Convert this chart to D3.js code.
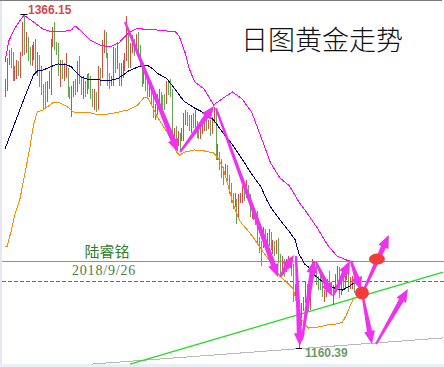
<!DOCTYPE html>
<html>
<head>
<meta charset="utf-8">
<script src="https://cdn.jsdelivr.net/npm/d3@7"></script>
<style>
  body { margin: 0; background: #fff; }
  svg { display: block; }
</style>
</head>
<body>
<div id="chart"></div>
<script>

// daily gold bars, 2018: [day, open, high, low, close]
var jan = [[11,1318,1326,1315,1322],[12,1322,1339,1319,1338],[15,1338,1344,1335,1340],[16,1340,1345,1333,1337],[17,1337,1343,1325,1327],[18,1327,1334,1325,1328],[19,1328,1338,1326,1332],[22,1332,1337,1328,1331],[23,1331,1343,1327,1340],[24,1340,1361,1340,1358],[25,1358,1366.15,1341,1348],[26,1348,1355,1342,1350],[29,1350,1352,1337,1341],[30,1341,1346,1335,1340],[31,1340,1347,1334,1345]];
var feb = [[1,1345,1349,1338,1347],[2,1347,1351,1330,1333],[5,1333,1343,1328,1338],[6,1338,1341,1321,1328],[7,1328,1334,1316,1318],[8,1318,1323,1307,1317],[9,1317,1324,1309,1316],[12,1316,1325,1312,1322],[13,1322,1331,1320,1330],[14,1330,1351,1316,1350],[15,1350,1358,1346,1354],[16,1354,1361,1344,1347],[19,1347,1349,1341,1346],[20,1346,1348,1328,1331],[21,1331,1338,1321,1332],[22,1332,1338,1326,1329],[23,1329,1336,1325,1330],[26,1330,1342,1327,1332],[27,1332,1333,1315,1318],[28,1318,1321,1314,1317]];
var mar = [[1,1317,1322,1303,1318],[2,1318,1325,1315,1322],[5,1322,1326,1316,1319],[6,1319,1337,1318,1335],[7,1335,1340,1323,1326],[8,1326,1328,1316,1321],[9,1321,1328,1314,1323],[12,1323,1325,1315,1321],[13,1321,1329,1317,1327],[14,1327,1330,1320,1325],[15,1325,1328,1314,1317],[16,1317,1320,1309,1313],[19,1313,1320,1307,1317],[20,1317,1318,1306,1311],[21,1311,1334,1307,1332],[22,1332,1333,1322,1328],[23,1328,1350,1327,1347],[26,1347,1356,1342,1354],[27,1354,1355,1339,1341],[28,1341,1342,1322,1325],[29,1325,1330,1320,1324],[30,1324,1328,1322,1326]];
var apr = [[2,1326,1346,1322,1343],[3,1343,1345,1330,1333],[4,1333,1349,1332,1334],[5,1334,1336,1322,1326],[6,1326,1336,1322,1332],[9,1332,1338,1327,1335],[10,1335,1342,1331,1339],[11,1339,1365,1337,1353],[12,1353,1354,1333,1335],[13,1335,1348,1333,1345],[16,1345,1353,1342,1348],[17,1348,1351,1340,1346],[18,1346,1354,1344,1350],[19,1350,1355,1343,1345],[20,1345,1347,1334,1335],[23,1335,1337,1321,1324],[24,1324,1336,1323,1332],[25,1332,1333,1319,1322],[26,1322,1325,1315,1317],[27,1317,1326,1315,1323],[30,1323,1324,1311,1315]];
var may = [[1,1315,1316,1302,1305],[2,1305,1311,1301,1306],[3,1306,1317,1304,1314],[4,1314,1320,1309,1315],[7,1315,1318,1309,1314],[8,1314,1316,1304,1313],[9,1313,1317,1307,1312],[10,1312,1325,1311,1321],[11,1321,1325,1316,1320],[14,1320,1326,1315,1318],[15,1318,1320,1288,1290],[16,1290,1296,1286,1291],[17,1291,1297,1287,1290],[18,1290,1294,1285,1291],[21,1291,1293,1282,1290],[22,1290,1296,1288,1292],[23,1292,1305,1288,1304],[24,1304,1307,1298,1305],[25,1305,1306,1297,1302],[28,1302,1304,1294,1297],[29,1297,1304,1293,1300],[30,1300,1305,1296,1298],[31,1298,1307,1296,1299]];
var jun = [[1,1299,1300,1290,1294],[4,1294,1296,1289,1291],[5,1291,1298,1289,1294],[6,1294,1299,1292,1296],[7,1296,1304,1294,1298],[8,1298,1302,1294,1297],[11,1297,1301,1295,1299],[12,1299,1301,1291,1294],[13,1294,1303,1292,1300],[14,1300,1309,1299,1303],[15,1303,1307,1276,1278],[18,1278,1286,1276,1279],[19,1279,1281,1270,1276],[20,1276,1277,1265,1268],[21,1268,1272,1261,1267],[22,1267,1274,1265,1270],[25,1270,1273,1263,1266],[26,1266,1267,1255,1258],[27,1258,1262,1250,1253],[28,1253,1256,1246,1249],[29,1249,1256,1247,1251]];
var jul = [[2,1251,1252,1237,1241],[3,1241,1255,1240,1253],[4,1253,1256,1250,1254],[5,1254,1260,1250,1256],[6,1256,1260,1251,1255],[9,1255,1264,1253,1258],[10,1258,1261,1252,1254],[11,1254,1255,1241,1245],[12,1245,1249,1240,1246],[13,1246,1248,1239,1241],[16,1241,1245,1236,1240],[17,1240,1245,1225,1227],[18,1227,1229,1219,1224],[19,1224,1226,1211,1223],[20,1223,1235,1222,1231],[23,1231,1234,1221,1224],[24,1224,1231,1221,1226],[25,1226,1234,1223,1231],[26,1231,1232,1221,1222],[27,1222,1227,1218,1223],[30,1223,1226,1217,1220],[31,1220,1227,1218,1224]];
var aug = [[1,1224,1228,1213,1216],[2,1216,1218,1204,1208],[3,1208,1217,1206,1214],[6,1214,1215,1204,1208],[7,1208,1215,1207,1210],[8,1210,1217,1209,1212],[9,1212,1216,1210,1211],[10,1211,1216,1205,1210],[13,1210,1212,1189,1193],[14,1193,1200,1190,1194],[15,1194,1195,1168,1175],[16,1175,1182,1160.39,1176],[17,1176,1188,1174,1184],[20,1184,1192,1183,1190],[21,1190,1201,1188,1196],[22,1196,1200,1192,1195],[23,1195,1197,1183,1186],[24,1186,1207,1184,1206],[27,1206,1215,1204,1212],[28,1212,1214,1205,1211],[29,1211,1213,1199,1202],[30,1202,1205,1196,1201],[31,1201,1206,1196,1200]];
var sep = [[3,1200,1201,1192,1193],[4,1193,1196,1189,1194],[5,1194,1200,1192,1197],[6,1197,1203,1195,1200],[7,1200,1208,1194,1196],[10,1196,1201,1193,1194],[11,1194,1199,1187,1195],[12,1195,1206,1194,1204],[13,1204,1211,1201,1209],[14,1209,1210,1191,1193],[17,1193,1203,1193,1199],[18,1199,1203,1196,1198],[19,1198,1205,1197,1203],[20,1203,1212,1202,1207],[21,1207,1210,1195,1199],[24,1199,1204,1197,1200],[25,1200,1205,1197,1201],[26,1201,1207,1194,1195]];

var bars = [].concat(jan, feb, mar, apr, may, jun, jul, aug, sep);

// bollinger bands: [bar number, price]
var upper = [[0,1336.6],[2,1349.5],[5,1356.9],[7,1360.6],[10,1365.5],[15,1361.2],[20,1356.9],[25,1355.1],[30,1355.1],[35,1356.3],[37,1358.8],[40,1355.7],[45,1350.1],[50,1347.1],[55,1345.8],[60,1348.3],[65,1354.4],[70,1357.5],[75,1356.3],[80,1356.3],[85,1355.7],[90,1355.1],[92,1352.0],[95,1342.1],[97,1332.9],[100,1324.3],[105,1320.0],[110,1310.1],[115,1314.4],[120,1318.1],[125,1313.8],[130,1305.8],[135,1290.4],[140,1274.4],[145,1265.1],[150,1260.2],[155,1250.3],[160,1242.3],[165,1233.7],[170,1223.9],[175,1217.1],[180,1214.6],[184,1213.4]];
var middle = [[0,1283.0],[5,1298.4],[10,1313.8],[15,1328.6],[17,1331.0],[20,1331.6],[25,1334.1],[28,1335.4],[33,1334.7],[35,1333.5],[40,1327.3],[45,1325.5],[50,1325.5],[55,1324.9],[60,1326.7],[63,1329.2],[65,1331.0],[70,1333.5],[75,1334.7],[78,1332.3],[80,1329.8],[85,1326.7],[88,1322.4],[90,1319.3],[93,1314.4],[95,1311.9],[100,1308.2],[105,1305.2],[110,1300.9],[113,1296.0],[115,1292.8],[120,1285.5],[125,1276.8],[130,1267.6],[135,1259.6],[138,1251.6],[140,1247.3],[145,1239.2],[150,1231.9],[153,1227.0],[155,1218.3],[158,1212.1],[160,1210.3],[163,1205.4],[165,1203.5],[170,1199.2],[175,1196.7],[178,1196.1],[181,1198.0],[184,1200.4]];
var lower = [[0,1223.2],[1,1222.6],[3,1231.2],[5,1241.7],[8,1252.8],[10,1265.1],[13,1283.0],[15,1297.8],[17,1305.8],[20,1307.0],[25,1311.3],[28,1311.9],[30,1310.7],[33,1308.9],[36,1305.8],[40,1305.2],[45,1305.2],[50,1303.9],[55,1304.6],[60,1305.8],[65,1307.0],[70,1310.1],[73,1314.4],[75,1315.0],[77,1310.7],[80,1303.3],[85,1294.1],[88,1287.9],[90,1281.8],[92,1279.3],[95,1281.1],[100,1282.4],[105,1281.8],[110,1280.5],[112,1278.0],[115,1271.3],[118,1259.0],[120,1250.3],[123,1240.5],[125,1236.8],[130,1230.0],[135,1221.4],[138,1216.5],[140,1213.4],[145,1204.8],[150,1199.2],[152,1196.7],[153,1191.8],[154,1185.7],[155,1180.7],[158,1175.2],[160,1172.7],[165,1173.3],[170,1174.6],[175,1175.2],[178,1176.4],[180,1180.7],[182,1186.3],[184,1191.8]];

// levels and hand drawn marks
var highPrice = 1366.15, lowPrice = 1160.39;
var resistance = 1214.0, lastPrice = 1201.7;
var trendGreen = [[66, 1150.5], [231, 1207.2]];
var trendGray = [[46, 1150.5], [231, 1166.6]];
var arrows = [
  [[63.3,1361.2],[91.2,1281.1]],
  [[92.3,1281.1],[110.2,1309.5]],
  [[111.2,1308.2],[143.9,1204.1]],
  [[145.0,1204.1],[152.3,1217.7]],
  [[153.4,1217.1],[155.5,1161.6]],
  [[156.6,1165.3],[162.9,1214.6]],
  [[163.9,1213.4],[172.4,1192.4]],
  [[172.9,1192.4],[181.9,1214.0]],
  [[182.4,1214.0],[187.7,1196.1]],
  [[189.2,1196.1],[202.4,1230.0]],
  [[188.7,1191.8],[193.5,1162.9]],
  [[195.6,1162.9],[212.4,1196.7]]
];
var spots = [[196.1,1215.2],[188.2,1194.3]];

var width = 444, height = 367;

var svg = d3.select("#chart").append("svg")
    .attr("width", width)
    .attr("height", height);

var x = d3.scaleLinear().domain([0, bars.length - 1]).range([5, 354]);
var y = d3.scaleLinear().domain([lowPrice, highPrice]).range([348, 14]);

// frame
svg.append("rect").attr("width", width).attr("height", height).attr("fill", "#fff");
svg.append("rect").attr("x", 0).attr("y", 0).attr("width", 2).attr("height", height).attr("fill", "#e4e8ee");
svg.append("rect").attr("x", 0).attr("y", 364).attr("width", width).attr("height", 3).attr("fill", "#eceff4");
svg.append("line").attr("x1", 0).attr("x2", 442).attr("y1", 0.5).attr("y2", 0.5)
  .attr("stroke", "#7a7a7a");

// level lines
svg.append("line")
  .attr("x1", 2).attr("x2", width)
  .attr("y1", Math.round(y(resistance)) + 0.5).attr("y2", Math.round(y(resistance)) + 0.5)
  .attr("stroke", "#22dd22").attr("shape-rendering", "crispEdges");
svg.append("line")
  .attr("x1", 2).attr("x2", width)
  .attr("y1", Math.round(y(lastPrice)) + 0.5).attr("y2", Math.round(y(lastPrice)) + 0.5)
  .attr("stroke", "#2a7ad6").attr("stroke-dasharray", "4,2")
  .attr("shape-rendering", "crispEdges");

svg.append("line")
  .attr("x1", x(trendGray[0][0])).attr("y1", y(trendGray[0][1]))
  .attr("x2", x(trendGray[1][0])).attr("y2", y(trendGray[1][1]))
  .attr("stroke", "#b8b8b8").attr("shape-rendering", "crispEdges");
svg.append("line")
  .attr("x1", x(trendGreen[0][0])).attr("y1", y(trendGreen[0][1]))
  .attr("x2", x(trendGreen[1][0])).attr("y2", y(trendGreen[1][1]))
  .attr("stroke", "#22dd22").attr("stroke-width", 1.3);

// bars (red up, green down)
svg.append("g").selectAll("line")
  .data(bars)
  .enter()
  .append("line")
    .attr("x1", function(d, i) { return Math.round(x(i)) + 0.5; })
    .attr("x2", function(d, i) { return Math.round(x(i)) + 0.5; })
    .attr("y1", function(d) { return y(d[2]); })
    .attr("y2", function(d) { return y(d[3]); })
    .attr("stroke", function(d) { return d[4] > d[1] ? "#dc4a3f" : "#64a650"; })
    .attr("shape-rendering", "crispEdges");

// bands
var band = d3.line()
  .x(function(d) { return x(d[0]); })
  .y(function(d) { return y(d[1]); });

[[upper, "#ff00ff"], [middle, "#000080"], [lower, "#ff8c00"]].forEach(function(b) {
  svg.append("path")
    .attr("d", band(b[0]))
    .attr("fill", "none")
    .attr("stroke", b[1])
    .attr("stroke-width", 1)
    .attr("shape-rendering", "crispEdges");
});

// high / low ticks and labels
var hi = bars.findIndex(function(d) { return d[2] === highPrice; });
var lo = bars.findIndex(function(d) { return d[3] === lowPrice; });
svg.append("line").attr("x1", x(hi) - 3.5).attr("x2", x(hi) + 3.5)
  .attr("y1", Math.round(y(highPrice)) + 0.5).attr("y2", Math.round(y(highPrice)) + 0.5)
  .attr("stroke", "#000");
svg.append("line").attr("x1", x(lo) - 3).attr("x2", x(lo) + 3)
  .attr("y1", Math.round(y(lowPrice)) + 0.5).attr("y2", Math.round(y(lowPrice)) + 0.5)
  .attr("stroke", "#000");

svg.append("text")
  .attr("x", x(hi) + 4).attr("y", y(highPrice))
  .attr("font-family", "Liberation Sans, Arial, sans-serif")
  .attr("font-size", 12).attr("font-weight", "bold")
  .attr("fill", "#cf4a4a")
  .text(highPrice.toFixed(2));
svg.append("text")
  .attr("x", x(lo) + 6).attr("y", y(lowPrice) + 9)
  .attr("font-family", "Liberation Sans, Arial, sans-serif")
  .attr("font-size", 12).attr("font-weight", "bold")
  .attr("fill", "#6a9a6a")
  .text(lowPrice.toFixed(2));

// arrows
function arrowPath(a) {
  var p0 = [x(a[0][0]), y(a[0][1])], p1 = [x(a[1][0]), y(a[1][1])];
  var dx = p1[0] - p0[0], dy = p1[1] - p0[1], len = Math.hypot(dx, dy);
  var ux = dx / len, uy = dy / len, nx = -uy, ny = ux;
  var hl = 13, hw = 5.5, w0 = 1.1, w1 = 2.6;
  var bx = p1[0] - ux * hl, by = p1[1] - uy * hl;
  var pts = [
    [p0[0] + nx * w0, p0[1] + ny * w0],
    [bx + nx * w1, by + ny * w1],
    [bx + nx * hw, by + ny * hw],
    p1,
    [bx - nx * hw, by - ny * hw],
    [bx - nx * w1, by - ny * w1],
    [p0[0] - nx * w0, p0[1] - ny * w0]
  ];
  return "M" + pts.map(function(p) { return p[0].toFixed(1) + "," + p[1].toFixed(1); }).join("L") + "Z";
}

svg.append("g").selectAll("path")
  .data(arrows)
  .enter()
  .append("path")
    .attr("d", arrowPath)
    .attr("fill", "#ee33ee");

svg.append("g").selectAll("ellipse")
  .data(spots)
  .enter()
  .append("ellipse")
    .attr("cx", function(d) { return x(d[0]); })
    .attr("cy", function(d) { return y(d[1]); })
    .attr("rx", function(d, i) { return i === 0 ? 8 : 7; })
    .attr("ry", function(d, i) { return i === 0 ? 5.5 : 6.5; })
    .attr("fill", "#f23a3a");

// texts
svg.append("text")
  .attr("x", 322).attr("y", 50)
  .attr("text-anchor", "middle")
  .attr("font-family", "Noto Sans CJK SC")
  .attr("font-weight", 300)
  .attr("font-size", 27)
  .attr("fill", "#111")
  .text("日图黄金走势");

svg.append("text")
  .attr("x", 107).attr("y", y(resistance) - 4)
  .attr("text-anchor", "middle")
  .attr("font-family", "Noto Sans CJK SC")
  .attr("font-size", 15)
  .attr("fill", "#2f7f2f")
  .text("陆睿铭");

svg.append("text")
  .attr("x", 104).attr("y", y(resistance) + 14)
  .attr("text-anchor", "middle")
  .attr("font-family", "Liberation Serif, serif")
  .attr("font-size", 14)
  .attr("letter-spacing", 0.8)
  .attr("fill", "#4a804a")
  .text("2018/9/26");

</script>
</body>
</html>
